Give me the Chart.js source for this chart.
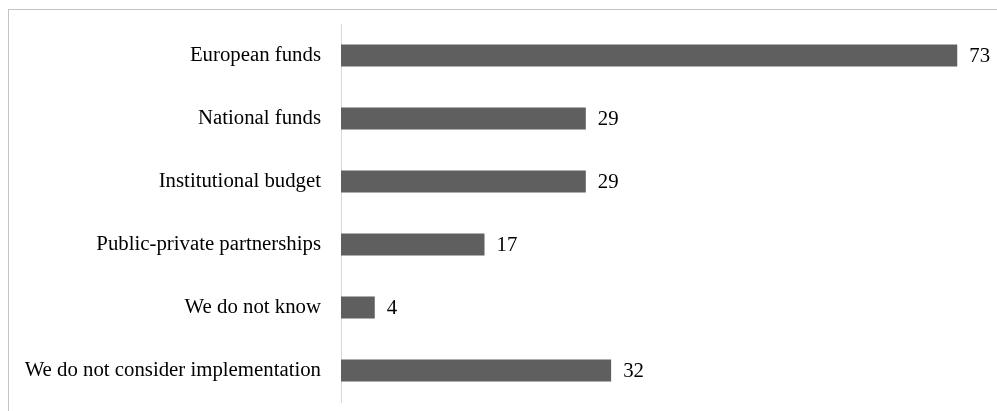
<!DOCTYPE html>
<html>
<head>
<meta charset="utf-8">
<script src="https://cdn.jsdelivr.net/npm/chart.js@4/dist/chart.umd.min.js"></script>
<style>
  html, body { margin: 0; padding: 0; background: #fff; }
  #wrap { position: relative; width: 997px; height: 411px; overflow: hidden; }
  #frame { position: absolute; left: 8px; top: 9px; width: 1000px; height: 420px; border: 1px solid #c4c4c4; box-sizing: border-box; }
  canvas { position: absolute; left: 0; top: 0; }
</style>
</head>
<body>
<div id="wrap">
  <div id="frame"></div>
  <canvas id="chart" width="997" height="411"></canvas>
</div>
<script>
const categories = [
  'European funds',
  'National funds',
  'Institutional budget',
  'Public-private partnerships',
  'We do not know',
  'We do not consider implementation',
];
const values = [73, 29, 29, 17, 4, 32];

const barColor = '#5f5f5f';
const labelFont = {family: '"Liberation Serif", "Times New Roman", serif', size: 20.8};

// draws the value just right of each bar
const valueLabels = {
  id: 'valueLabels',
  afterDatasetsDraw(chart) {
    const ctx = chart.ctx;
    const meta = chart.getDatasetMeta(0);
    ctx.save();
    ctx.font = labelFont.size + 'px ' + labelFont.family;
    ctx.fillStyle = '#000';
    ctx.textBaseline = 'middle';
    ctx.textAlign = 'left';
    meta.data.forEach((bar, i) => {
      ctx.fillText(values[i], bar.x + 12, bar.y + 1);
    });
    ctx.restore();
  },
};

new Chart(document.getElementById('chart'), {
  type: 'bar',
  data: {
    labels: categories,
    datasets: [{
      data: values,
      backgroundColor: barColor,
      barPercentage: 0.35,
      categoryPercentage: 1,
    }],
  },
  options: {
    indexAxis: 'y',
    responsive: false,
    animation: false,
    layout: {padding: {top: 24, bottom: 9, right: 6, left: 0}},
    plugins: {
      legend: {display: false},
      tooltip: {enabled: false},
    },
    scales: {
      x: {
        display: false,
        min: 0,
        max: 77,
      },
      y: {
        afterFit(scale) {
          scale.width = 341;
          scale.paddingTop = 0;
          scale.paddingBottom = 0;
        },
        grid: {display: false, drawTicks: false},
        border: {display: true, color: '#d9d9d9', width: 1},
        ticks: {
          color: '#000',
          font: labelFont,
          padding: 20,
        },
      },
    },
  },
  plugins: [valueLabels],
});
</script>
</body>
</html>
